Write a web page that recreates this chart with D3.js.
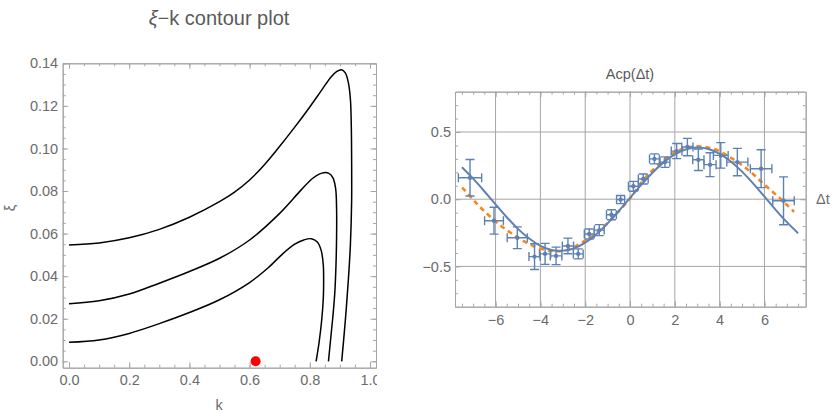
<!DOCTYPE html>
<html>
<head>
<meta charset="utf-8">
<script src="https://cdn.jsdelivr.net/npm/d3@7"></script>
<style>
  body { margin: 0; background: #fff; }
  text { font-family: "Liberation Sans", Arial, sans-serif; }
</style>
</head>
<body>
<div id="chart"></div>
<script>
// ---- left panel: contour lines, points (k, xi)
const contourA = [[0, 0.0547], [0.1, 0.0556], [0.2, 0.0580], [0.3, 0.0620], [0.4, 0.0677], [0.5, 0.0750],
  [0.55, 0.0795], [0.6, 0.0852], [0.65, 0.0925], [0.7, 0.1010], [0.75, 0.1100], [0.8, 0.1195],
  [0.84, 0.1275], [0.87, 0.1335], [0.89, 0.1362], [0.905, 0.1370], [0.918, 0.1355], [0.928, 0.131],
  [0.935, 0.123], [0.938, 0.110], [0.939, 0.095], [0.939, 0.075], [0.935, 0.055], [0.928, 0.038],
  [0.918, 0.019], [0.906, 0]];
const contourB = [[0, 0.0271], [0.1, 0.0284], [0.2, 0.0316], [0.3, 0.0367], [0.4, 0.0422], [0.5, 0.0484],
  [0.6, 0.0570], [0.7, 0.0695], [0.77, 0.0803], [0.81, 0.0860], [0.84, 0.0884], [0.862, 0.0884],
  [0.877, 0.0862], [0.886, 0.081], [0.889, 0.072], [0.889, 0.058], [0.887, 0.045], [0.883, 0.032],
  [0.876, 0.02], [0.869, 0.01], [0.862, 0]];
const contourC = [[0, 0.0089], [0.1, 0.0100], [0.2, 0.0131], [0.3, 0.0177], [0.4, 0.0229], [0.5, 0.0289],
  [0.6, 0.0370], [0.66, 0.0437], [0.71, 0.0505], [0.75, 0.0550], [0.78, 0.0570], [0.805, 0.0576],
  [0.825, 0.0560], [0.838, 0.052], [0.845, 0.045], [0.846, 0.038], [0.845, 0.030], [0.840, 0.020],
  [0.831, 0.009], [0.821, 0]];
const marker = [0.62, 0];
const kTicks = [0, 0.2, 0.4, 0.6, 0.8, 1.0];
const xiTicks = [0, 0.02, 0.04, 0.06, 0.08, 0.10, 0.12, 0.14];

// ---- right panel: Acp(dt) measurements with errors
const dataT = [-7.14, -6.07, -5.03, -4.26, -3.79, -3.30, -2.77, -2.31, -1.82, -1.37, -0.83, -0.42,
  0.15, 0.59, 1.09, 1.56, 2.08, 2.56, 3.05, 3.57, 4.05, 4.79, 5.85, 6.85];
const dataAcp = [0.16, -0.16, -0.287, -0.427, -0.407, -0.422, -0.348, -0.407, -0.259, -0.23, -0.116, -0.003,
  0.096, 0.15, 0.30, 0.276, 0.358, 0.388, 0.294, 0.257, 0.326, 0.276, 0.227, -0.012];
const errT = [0.52, 0.42, 0.45, 0.25, 0.25, 0.26, 0.25, 0.22, 0.22, 0.22, 0.22, 0.18,
  0.22, 0.22, 0.22, 0.22, 0.24, 0.25, 0.25, 0.27, 0.33, 0.47, 0.48, 0.48];
const errAcp = [0.136, 0.10, 0.081, 0.096, 0.078, 0.065, 0.058, 0.037, 0.037, 0.041, 0.037, 0.03,
  0.037, 0.037, 0.037, 0.039, 0.056, 0.065, 0.08, 0.089, 0.095, 0.102, 0.141, 0.178];

// solid fit
const fitT = [-7.5, -7, -6.5, -6, -5.5, -5, -4.5, -4, -3.5, -3, -2.5, -2, -1.5, -1, -0.5, 0,
  0.5, 1, 1.5, 2, 2.5, 3, 3.5, 4, 4.5, 5, 5.5, 6, 6.5, 7, 7.5];
const fitAcp = [0.238, 0.153, 0.059, -0.039, -0.134, -0.221, -0.293, -0.347, -0.378, -0.384, -0.366, -0.323,
  -0.260, -0.180, -0.088, 0.010, 0.107, 0.197, 0.274, 0.333, 0.371, 0.385, 0.374, 0.338, 0.281, 0.205,
  0.116, 0.019, -0.079, -0.171, -0.253];
// dashed curve
const dashT = [-7.49, -7.02, -6.55, -5.8, -5.06, -4.32, -3.57, -2.83, -2.08, -1.34, -0.59, 0,
  0.59, 1.49, 2.23, 2.98, 3.72, 4.46, 5.21, 5.95, 6.70, 7.32];
const dashAcp = [0.087, 0, -0.081, -0.193, -0.279, -0.348, -0.383, -0.378, -0.316, -0.23, -0.106, 0.005,
  0.141, 0.289, 0.368, 0.393, 0.375, 0.313, 0.227, 0.116, 0.005, -0.094];
const tTicks = [-6, -4, -2, 0, 2, 4, 6];
const acpTicks = [-0.5, 0, 0.5];

const blue = "#5e81b5", orange = "#f7861c", frameColor = "#a6a6a6", labelColor = "#6b6b6b";

const svg = d3.select("#chart").append("svg").attr("width", 833).attr("height", 412);

// draws framed axes with inward ticks on all four sides
const drawFrame = (g, x, y, opt) => {
  const [x0, x1] = x.range(), [y0, y1] = y.range();
  const axes = [
    [d3.axisBottom(x), y0, opt.xMajor, opt.xMinor, opt.fx, opt.padX, "x"],
    [d3.axisTop(x), y1, opt.xMajor, opt.xMinor, null, 0, "x"],
    [d3.axisLeft(y), x0, opt.yMajor, opt.yMinor, opt.fy, opt.padY, "y"],
    [d3.axisRight(y), x1, opt.yMajor, opt.yMinor, null, 0, "y"],
  ];
  axes.forEach(([ax, pos, major, minor, fmt, pad, dir]) => {
    const tr = dir === "x" ? `translate(0,${pos})` : `translate(${pos},0)`;
    g.append("g").attr("transform", tr)
      .call(ax.tickValues(minor).tickSizeInner(-3).tickSizeOuter(0).tickFormat(""));
    const a = g.append("g").attr("transform", tr)
      .call(ax.tickValues(major).tickSizeInner(-5.5).tickSizeOuter(0).tickPadding(pad)
        .tickFormat(fmt ? fmt : ""));
    a.attr("font-size", 14.5).attr("font-family", null);
    a.selectAll("text").attr("fill", labelColor);
  });
  g.selectAll("path.domain, line").attr("stroke", frameColor);
};

// ---------------- left: contour plot
const left = svg.append("g");
svg.append("clipPath").attr("id", "leftClip").append("rect")
  .attr("x", 0).attr("y", 0).attr("width", 377).attr("height", 412);
left.attr("clip-path", "url(#leftClip)");

const kx = d3.scaleLinear().domain([-0.021, 1.02]).range([62.7, 376]);
const xy = d3.scaleLinear().domain([-0.003, 0.14]).range([367.7, 63.3]);

drawFrame(left, kx, xy, {
  xMajor: kTicks, xMinor: d3.range(0, 1.001, 0.05),
  yMajor: xiTicks, yMinor: d3.range(0, 0.1401, 0.005),
  fx: d3.format(".1f"), fy: d3.format(".2f"), padX: 7, padY: 4.5,
});

const contourLine = d3.line().x((d) => kx(d[0])).y((d) => xy(d[1])).curve(d3.curveCatmullRom.alpha(0.5));
left.append("g").selectAll("path")
  .data([contourA, contourB, contourC])
  .join("path")
  .attr("d", contourLine)
  .attr("fill", "none")
  .attr("stroke", "#000")
  .attr("stroke-width", 1.5);

left.append("circle")
  .attr("cx", kx(marker[0])).attr("cy", xy(marker[1])).attr("r", 5)
  .attr("fill", "#ff0000");

left.append("text").attr("x", 219).attr("y", 25).attr("text-anchor", "middle")
  .attr("font-size", 20).attr("fill", "#5a5a5a")
  .html('<tspan font-style="italic">ξ</tspan>−k contour plot');
left.append("text").attr("x", 219).attr("y", 410).attr("text-anchor", "middle")
  .attr("font-size", 14.5).attr("fill", labelColor).text("k");
left.append("text").attr("transform", "translate(15,208)rotate(-90)").attr("text-anchor", "middle")
  .attr("font-size", 14.5).attr("fill", labelColor).text("ξ");

// ---------------- right: Acp(dt)
const right = svg.append("g");
const tx = d3.scaleLinear().domain([-7.81, 7.84]).range([455, 805.7]);
const ay = d3.scaleLinear().domain([-0.8, 0.8]).range([306.7, 91.7]);

// grid
right.append("g").selectAll("line")
  .data(tTicks.filter((t) => t !== 0))
  .join("line")
  .attr("x1", (d) => tx(d)).attr("x2", (d) => tx(d))
  .attr("y1", ay(-0.8)).attr("y2", ay(0.8))
  .attr("stroke", "#dedede");
right.append("g").selectAll("line")
  .data(acpTicks.filter((t) => t !== 0))
  .join("line")
  .attr("x1", tx.range()[0]).attr("x2", tx.range()[1])
  .attr("y1", (d) => ay(d)).attr("y2", (d) => ay(d))
  .attr("stroke", "#dedede");
// zero axes
right.append("line").attr("x1", tx(0)).attr("x2", tx(0)).attr("y1", ay(-0.8)).attr("y2", ay(0.8))
  .attr("stroke", "#6a6a6a");
right.append("line").attr("x1", tx.range()[0]).attr("x2", tx.range()[1]).attr("y1", ay(0)).attr("y2", ay(0))
  .attr("stroke", "#6a6a6a");

drawFrame(right, tx, ay, {
  xMajor: tTicks, xMinor: d3.range(-7.5, 7.51, 0.5),
  yMajor: acpTicks, yMinor: d3.range(-0.7, 0.71, 0.1),
  fx: d3.format("d"), fy: d3.format(".1f"), padX: 8, padY: 4,
});

svg.append("clipPath").attr("id", "rightClip").append("rect")
  .attr("x", 455).attr("y", 91.7).attr("width", 350.7).attr("height", 215);
const plot = right.append("g").attr("clip-path", "url(#rightClip)");

// dashed curve
plot.append("path")
  .datum(dashT.map((t, i) => [t, dashAcp[i]]))
  .attr("d", d3.line().x((d) => tx(d[0])).y((d) => ay(d[1])).curve(d3.curveCatmullRom))
  .attr("fill", "none").attr("stroke", orange).attr("stroke-width", 2.6)
  .attr("stroke-dasharray", "5,4");

// solid curve
plot.append("path")
  .datum(fitT.map((t, i) => [t, fitAcp[i]]))
  .attr("d", d3.line().x((d) => tx(d[0])).y((d) => ay(d[1])).curve(d3.curveNatural))
  .attr("fill", "none").attr("stroke", blue).attr("stroke-width", 2);

// error bars
const pts = dataT.map((t, i) => ({ t: t, v: dataAcp[i], et: errT[i], ev: errAcp[i] }));
const cap = 4.5;
const bars = plot.append("g").attr("stroke", blue).attr("stroke-width", 1.4).attr("fill", "none");
pts.forEach((d) => {
  const cx = tx(d.t), cy = ay(d.v);
  const xl = tx(d.t - d.et), xr = tx(d.t + d.et), yt = ay(d.v + d.ev), yb = ay(d.v - d.ev);
  const path = d3.path();
  path.moveTo(xl, cy); path.lineTo(xr, cy);
  path.moveTo(cx, yt); path.lineTo(cx, yb);
  path.moveTo(xl, cy - cap); path.lineTo(xl, cy + cap);
  path.moveTo(xr, cy - cap); path.lineTo(xr, cy + cap);
  path.moveTo(cx - cap, yt); path.lineTo(cx + cap, yt);
  path.moveTo(cx - cap, yb); path.lineTo(cx + cap, yb);
  bars.append("path").attr("d", path.toString());
});
plot.append("g").selectAll("circle")
  .data(pts)
  .join("circle")
  .attr("cx", (d) => tx(d.t)).attr("cy", (d) => ay(d.v)).attr("r", 2.2)
  .attr("fill", blue);

right.append("text").attr("x", 630).attr("y", 79).attr("text-anchor", "middle")
  .attr("font-size", 14.5).attr("fill", "#5a5a5a").text("Acp(Δt)");
right.append("text").attr("x", 816).attr("y", 204).attr("font-size", 14.5)
  .attr("fill", labelColor).text("Δt");
</script>
</body>
</html>
